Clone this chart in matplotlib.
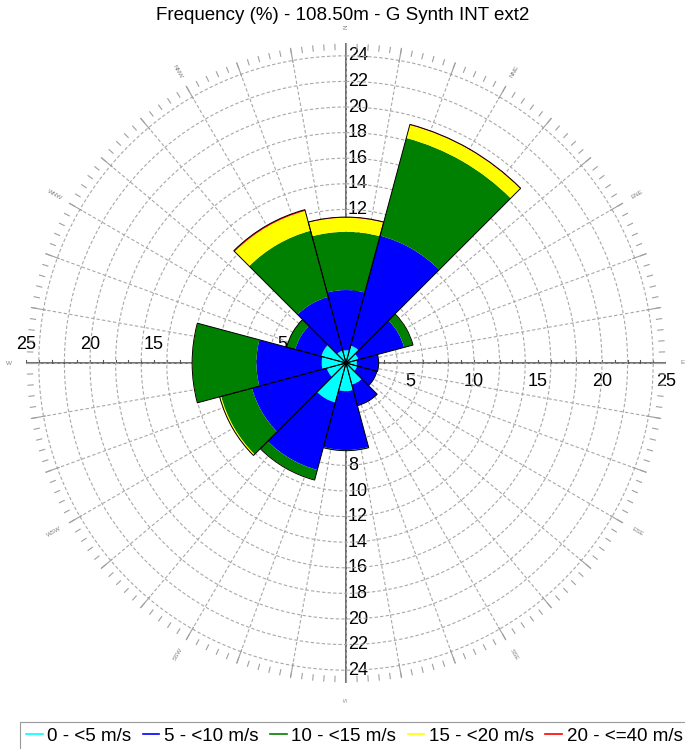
import numpy as np
import matplotlib
matplotlib.use("Agg")
import matplotlib.pyplot as plt
from matplotlib.lines import Line2D

plt.rcParams['font.family'] = ['Liberation Sans', 'DejaVu Sans']

# === Données (fréquence %, par secteur et classe de vitesse) ===
secteurs = ["N", "NNE", "ENE", "E", "ESE", "SSE", "S", "SSW", "WSW", "W", "WNW", "NNW"]
directions = [0, 30, 60, 90, 120, 150, 180, 210, 240, 270, 300, 330]

v0_5 = [1.0, 1.4, 1.0, 0.85, 0.9, 1.75, 2.2, 3.2, 1.55, 1.9, 2.0, 1.0]
v5_10 = [4.7, 8.9, 3.7, 1.7, 1.6, 1.7, 4.6, 5.45, 6.05, 5.1, 2.1, 4.35]
v10_15 = [4.55, 7.9, 0.7, 0.0, 0.0, 0.0, 0.05, 0.8, 2.5, 5.0, 0.7, 5.35]
v15_20 = [1.1, 1.05, 0.02, 0.0, 0.0, 0.0, 0.0, 0.02, 0.1, 0.02, 0.0, 1.6]
v20_40 = [0.05, 0.05, 0.0, 0.0, 0.0, 0.0, 0.0, 0.0, 0.02, 0.0, 0.0, 0.1]

classes = ["0 - <5 m/s", "5 - <10 m/s", "10 - <15 m/s", "15 - <20 m/s", "20 - <=40 m/s"]
couleurs = ["#00ffff", "#0000ff", "#008000", "#ffff00", "#ff0000"]

etiquettes_h = [5, 10, 15, 20, 25]
etiquettes_v = list(range(2, 25, 2))

# === Figure ===
fig = plt.figure(figsize=(6.85, 7.49), dpi=100)
pos = [26 / 685, (749 - 363 - 320) / 749, 640 / 685, 640 / 749]

# Axes cartésiens (dessous) : axes, graduations, étiquettes
axc = fig.add_axes(pos, zorder=0)
axc.set_xlim(-25, 25)
axc.set_ylim(-25, 25)
axc.axis("off")
axc.plot([-25, 25], [0, 0], color="#555555", lw=1.2)
axc.plot([0, 0], [-25, 25], color="#555555", lw=1.2)
for t in range(-25, 26):
    axc.plot([t, t], [0, 0.25], color="#555555", lw=0.8)
for v in etiquettes_h:
    axc.annotate(str(v), (-v, 0), xytext=(0, 7), textcoords="offset points",
                 ha="center", va="bottom", fontsize=13)
    axc.annotate(str(v), (v, 0), xytext=(0, -7), textcoords="offset points",
                 ha="center", va="top", fontsize=13)
for v in etiquettes_v:
    axc.annotate(str(v), (0, v), xytext=(1.5, 0), textcoords="offset points",
                 ha="left", va="center", fontsize=13)
    axc.annotate(str(v), (0, -v), xytext=(1.5, 0), textcoords="offset points",
                 ha="left", va="center", fontsize=13)

# Axes polaires (dessus) : grille et rose des vents
ax = fig.add_axes(pos, projection="polar", zorder=1)
ax.patch.set_alpha(0)
ax.set_theta_zero_location("N")
ax.set_theta_direction(-1)
ax.set_ylim(0, 25)
ax.grid(False)
ax.set_xticks([])
ax.set_yticks([])
ax.spines["polar"].set_visible(False)

grille = dict(color="#a8a8a8", lw=0.8, ls=(0, (3, 2)), zorder=1)
tt = np.linspace(0, 2 * np.pi, 400)
for r in range(2, 25, 2):
    ax.plot(tt, np.full_like(tt, r), **grille)
for a in range(0, 360, 10):
    ax.plot([np.radians(a)] * 2, [0, 24], **grille)
ax.vlines(np.radians(np.arange(0, 360, 2)), 24.45, 24.95, color="#a0a0a0", lw=0.8)
ax.vlines(np.radians(np.arange(0, 360, 10)), 23.8, 25.2, color="#a0a0a0", lw=0.8)

theta = np.radians(directions)
largeur = np.radians(30)
bas = np.zeros(len(secteurs))
for vals, c in zip([v0_5, v5_10, v10_15, v15_20, v20_40], couleurs):
    ax.bar(theta, vals, width=largeur, bottom=bas, color=c, edgecolor="none",
           linewidth=0, zorder=3)
    bas = bas + np.array(vals)
ax.bar(theta, bas, width=largeur, bottom=0, facecolor="none", edgecolor="black",
       linewidth=0.7, zorder=4)

# Points cardinaux
for nom, d in zip(secteurs, directions):
    ang = 90 - d
    rot = (ang + 180) % 360 - 180
    if rot > 90:
        rot -= 180
    elif rot < -90:
        rot += 180
    if d in (0, 180):
        rot = 90
    ax.text(np.radians(d), 26.3, nom, fontsize=4.5, color="#808080",
            rotation=rot, ha="center", va="center", clip_on=False)

# === Titre et légende ===
fig.text(0.501, 1 - 15 / 749, "Frequency (%) - 108.50m - G Synth INT ext2",
         ha="center", va="center", fontsize=13.5)

poignees = [Line2D([0], [0], color=c, lw=1.2) for c in couleurs]
leg = fig.legend(poignees, classes, loc="upper left", ncol=5,
                 bbox_to_anchor=(20 / 685, 1 - 722 / 749), fontsize=13.5,
                 frameon=True, fancybox=False, handlelength=0.9,
                 handletextpad=0.25, columnspacing=0.6, borderpad=0.3,
                 borderaxespad=0)
leg.get_frame().set_edgecolor("#808080")
leg.get_frame().set_linewidth(0.8)

plt.savefig("out.png", dpi=100)
